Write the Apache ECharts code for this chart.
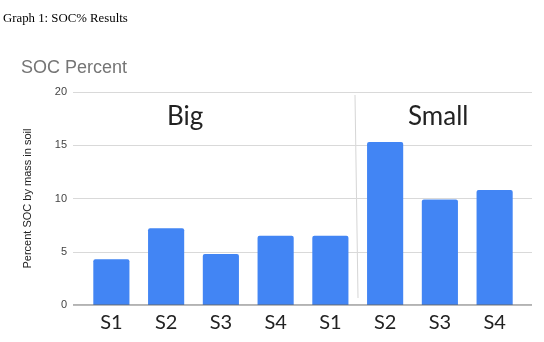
<!DOCTYPE html>
<html><head><meta charset="utf-8">
<script src="https://cdn.jsdelivr.net/npm/echarts@6/dist/echarts.min.js"></script>
<style>html,body{margin:0;padding:0;background:#fff}#c{width:544px;height:342px}</style>
</head><body><div id="c"></div>
<script>
const categories = ['S1','S2','S3','S4','S1','S2','S3','S4'];
const socValues = [4.3, 7.2, 4.8, 6.5, 6.5, 15.3, 9.9, 10.8];
const yTicks = [0, 5, 10, 15, 20];
const groupLabels = ['Big', 'Small'];

const chart = echarts.init(document.getElementById('c'));
chart.setOption({
  animation: false,
  backgroundColor: '#fff',
  title: [
    {text: 'Graph 1: SOC% Results', left: 3, top: 12, padding: 0,
     textStyle: {fontFamily: 'Liberation Serif', fontSize: 12.8, fontWeight: 'normal', color: '#000'}},
    {text: 'SOC Percent', left: 21, top: 59, padding: 0,
     textStyle: {fontFamily: 'Liberation Sans', fontSize: 18, fontWeight: 'normal', color: '#757575'}}
  ],
  grid: [
    {left: 73, right: 12, top: 92, bottom: 37},
    {left: 84, right: 22, top: 92, bottom: 37}
  ],
  xAxis: [
    {gridIndex: 0, type: 'value', min: 0, max: 1, show: false},
    {gridIndex: 1, type: 'category', data: categories,
     axisLine: {show: false}, axisTick: {show: false},
     axisLabel: {fontFamily: 'Lato', fontSize: 20, color: '#222', margin: 8}}
  ],
  yAxis: [
    {gridIndex: 0, type: 'value', min: yTicks[0], max: yTicks[yTicks.length-1], interval: 5,
     name: 'Percent SOC by mass in soil', nameLocation: 'middle', nameGap: 40,
     nameTextStyle: {fontFamily: 'Liberation Sans', fontSize: 11, color: '#222'},
     axisLine: {show: false}, axisTick: {show: false},
     axisLabel: {fontFamily: 'Liberation Sans', fontSize: 11, color: '#444', margin: 6},
     splitLine: {lineStyle: {color: '#d9d9d9', width: 1}}},
    {gridIndex: 1, type: 'value', min: yTicks[0], max: yTicks[yTicks.length-1], interval: 5, show: false}
  ],
  series: [
    {type: 'line', xAxisIndex: 0, yAxisIndex: 0, data: [[0,0],[1,0]], symbol: 'none',
     lineStyle: {color: '#666', width: 1}, z: 5, silent: true},
    {type: 'bar', xAxisIndex: 1, yAxisIndex: 1, data: socValues, barWidth: '66%',
     itemStyle: {color: '#4285F4', borderRadius: [2,2,0,0]}, z: 3}
  ],
  graphic: [
    {type: 'text', left: 167, top: 104, style: {text: groupLabels[0], font: '26px Lato', fill: '#222'}},
    {type: 'text', left: 408, top: 104, style: {text: groupLabels[1], font: '26px Lato', fill: '#222'}},
    {type: 'line', shape: {x1: 355, y1: 95, x2: 358, y2: 298}, style: {stroke: '#d6d6d6', lineWidth: 1}}
  ]
});
</script></body></html>
